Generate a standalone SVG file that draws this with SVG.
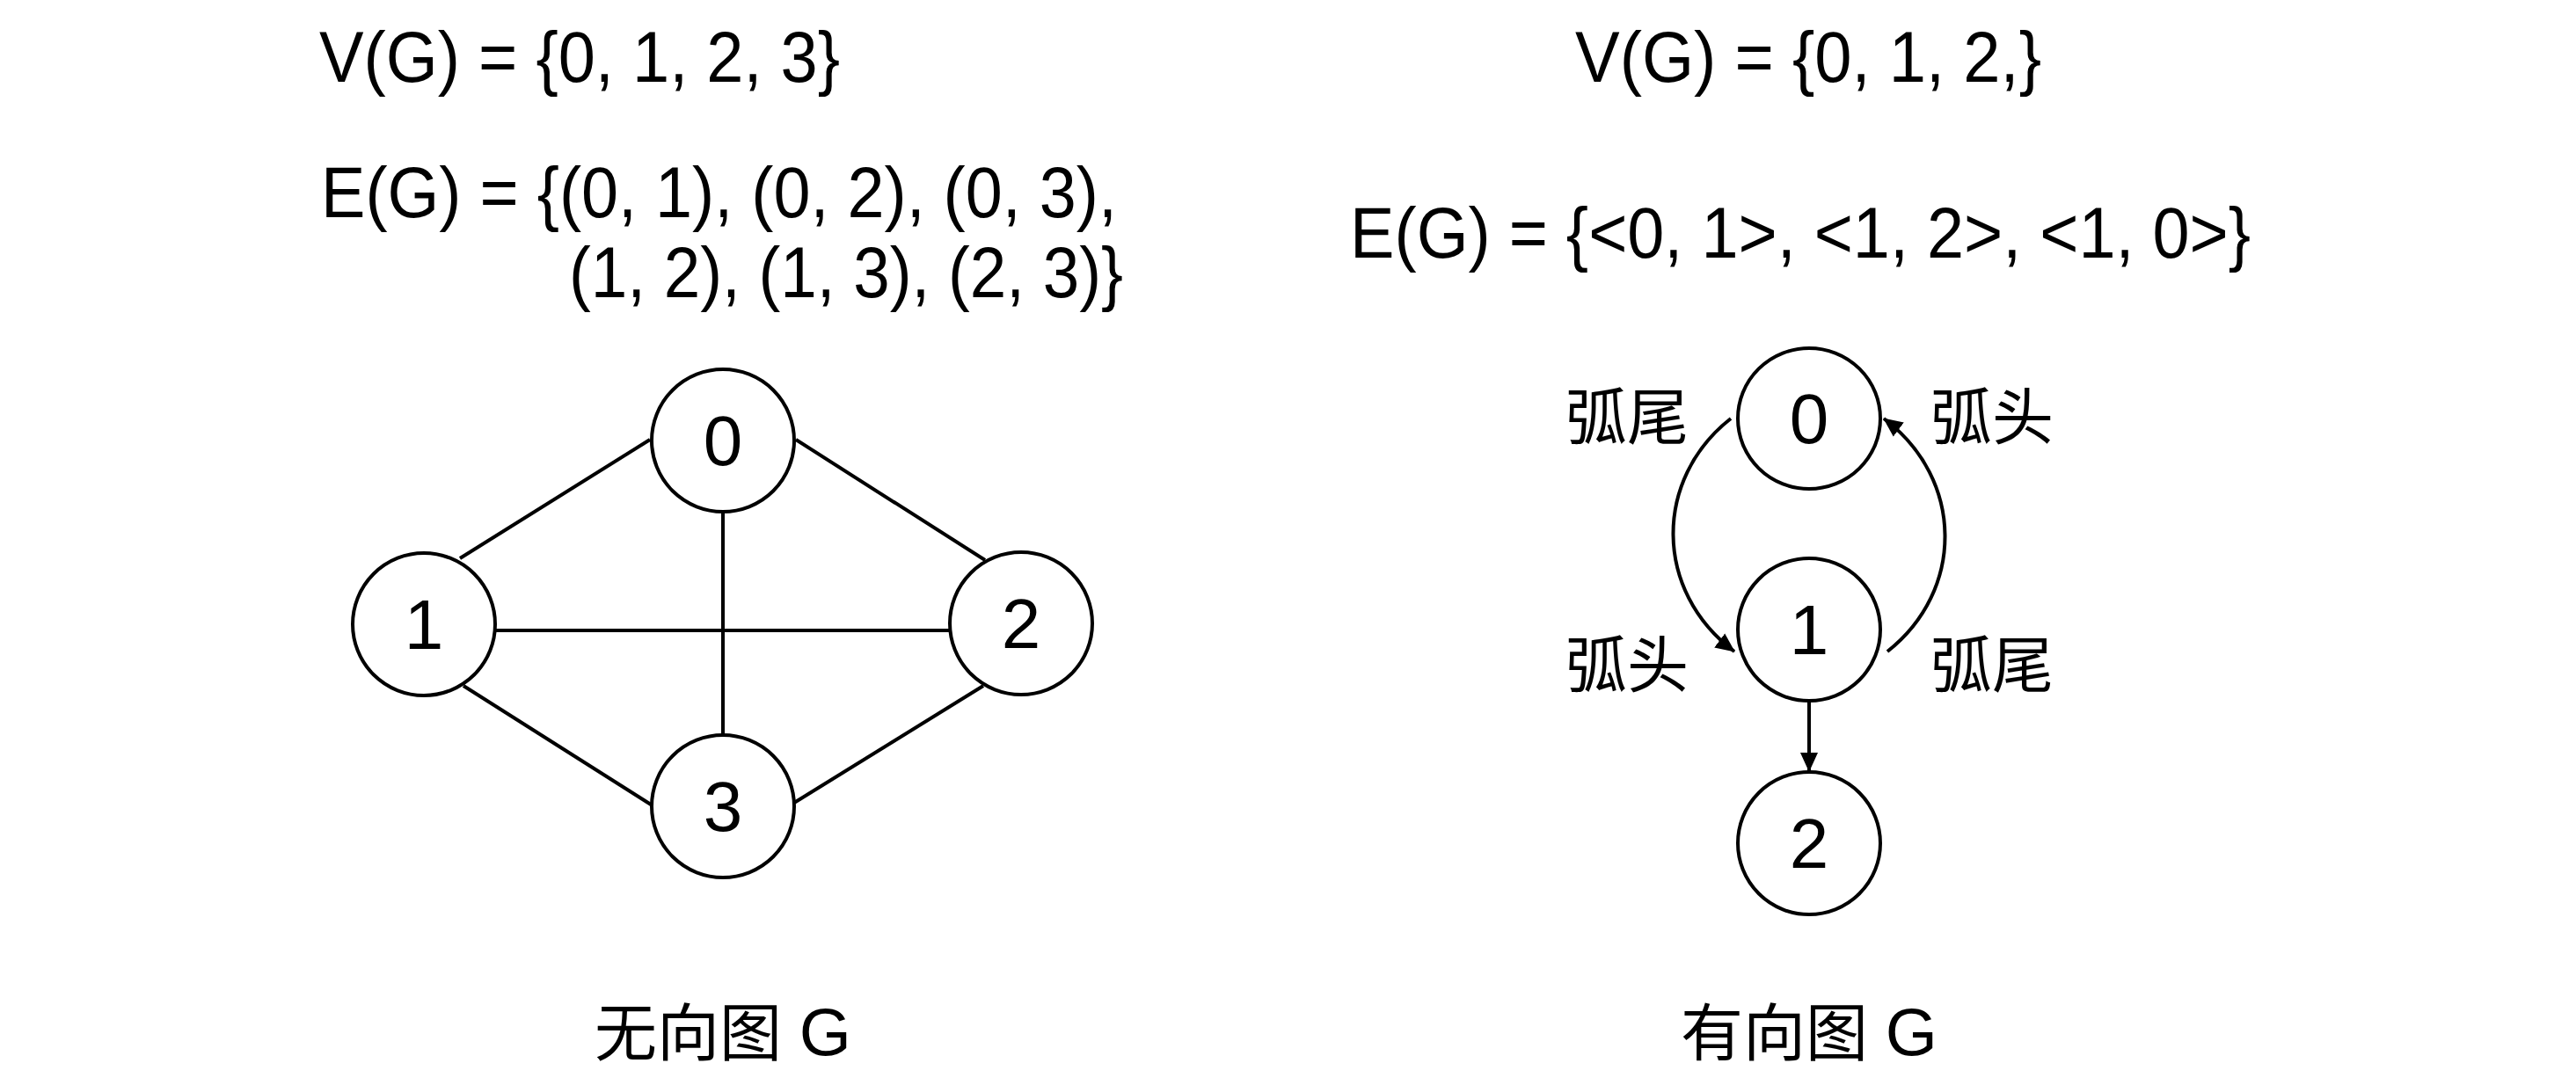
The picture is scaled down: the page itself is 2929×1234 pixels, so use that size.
<svg xmlns="http://www.w3.org/2000/svg" width="2929" height="1234" viewBox="0 0 2929 1234">
<style>
text{font-family:"Liberation Sans","Noto Sans CJK SC",sans-serif;fill:#000}
.f{font-size:81px}
.n{font-size:80px;text-anchor:middle}
.cj{font-size:70px;font-family:"Noto Sans CJK SC","Liberation Sans",sans-serif}
.cap{font-size:71px;text-anchor:middle}
.node{fill:#fff;stroke:#000;stroke-width:4}
.edge{fill:none;stroke:#000;stroke-width:4}
</style>
<defs>
<marker id="arr" viewBox="0 0 22 22" refX="21" refY="11" markerWidth="22" markerHeight="22" markerUnits="userSpaceOnUse" orient="auto">
<path d="M0,1 L22,11 L0,21 z" fill="#000"/>
</marker>
</defs>
<rect width="2929" height="1234" fill="#fff"/>

<g id="formulas">
<text class="f" x="363" y="93" textLength="592" lengthAdjust="spacingAndGlyphs">V(G) = {0, 1, 2, 3}</text>
<text class="f" x="365" y="247" textLength="905" lengthAdjust="spacingAndGlyphs">E(G) = {(0, 1), (0, 2), (0, 3),</text>
<text class="f" x="647" y="338" textLength="630" lengthAdjust="spacingAndGlyphs">(1, 2), (1, 3), (2, 3)}</text>
<text class="f" x="1791" y="93" textLength="530" lengthAdjust="spacingAndGlyphs">V(G) = {0, 1, 2,}</text>
<text class="f" x="1535" y="293" textLength="1024" lengthAdjust="spacingAndGlyphs">E(G) = {&lt;0, 1&gt;, &lt;1, 2&gt;, &lt;1, 0&gt;}</text>
</g>

<g id="connectors">
<line class="edge" x1="739" y1="500" x2="523" y2="635"/>
<line class="edge" x1="905" y1="500" x2="1120" y2="637"/>
<line class="edge" x1="822" y1="583" x2="822" y2="836"/>
<line class="edge" x1="563" y1="717" x2="1080" y2="717"/>
<line class="edge" x1="527" y1="780" x2="740" y2="915"/>
<line class="edge" x1="1118" y1="780" x2="903" y2="913"/>
<path class="edge" d="M1968,476 C1880,545 1880,672 1972,741" marker-end="url(#arr)"/>
<path class="edge" d="M2146,741 C2234,672 2234,545 2142,476" marker-end="url(#arr)"/>
<line class="edge" x1="2057" y1="798" x2="2057" y2="877" marker-end="url(#arr)"/>
</g>

<g id="u0"><ellipse class="node" cx="822" cy="501" rx="81" ry="81"/><text class="n" x="822" y="529">0</text></g>
<g id="u1"><ellipse class="node" cx="482" cy="710" rx="81" ry="81"/><text class="n" x="482" y="738">1</text></g>
<g id="u2"><ellipse class="node" cx="1161" cy="709" rx="81" ry="81"/><text class="n" x="1161" y="737">2</text></g>
<g id="u3"><ellipse class="node" cx="822" cy="917" rx="81" ry="81"/><text class="n" x="822" y="945">3</text></g>

<g id="d0"><ellipse class="node" cx="2057" cy="476" rx="81" ry="80"/><text class="n" x="2057" y="504">0</text></g>
<g id="d1"><ellipse class="node" cx="2057" cy="716" rx="81" ry="81"/><text class="n" x="2057" y="744">1</text></g>
<g id="d2"><ellipse class="node" cx="2057" cy="959" rx="81" ry="81"/><text class="n" x="2057" y="987">2</text></g>

<g id="arc-labels">
<text class="cj" x="1780" y="500">弧尾</text>
<text class="cj" x="1780" y="782">弧头</text>
<text class="cj" x="2195" y="500">弧头</text>
<text class="cj" x="2195" y="782">弧尾</text>
</g>

<g id="captions">
<text class="cap" x="822" y="1200">无向图 <tspan font-size="76">G</tspan></text>
<text class="cap" x="2057" y="1200">有向图 <tspan font-size="76">G</tspan></text>
</g>
</svg>
